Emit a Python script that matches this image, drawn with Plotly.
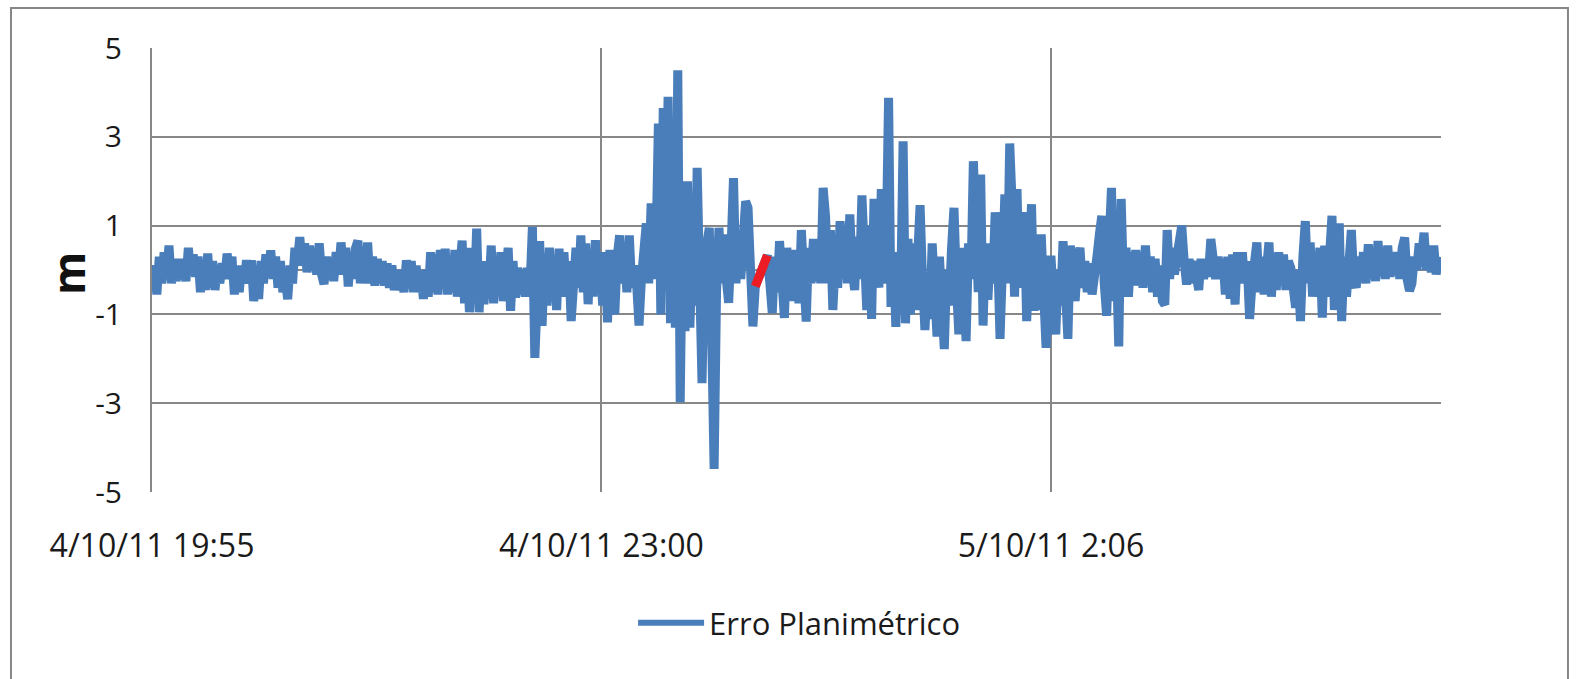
import pandas as pd
import plotly.graph_objects as go

# Série temporal do erro planimétrico (m), uma amostra por minuto a partir de 4/10/11 19:55
inicio = "2011-10-04 19:55:00"
erro_planimetrico = [
    -0.3, 0.1, -0.55, 0.3, -0.3, 0.4, -0.2, 0.55, -0.3, 0.2,
    -0.25, 0.25, -0.2, 0.2, -0.25, 0.5, -0.1, 0.35, -0.15, 0.3,
    -0.5, 0.1, -0.45, 0.37, -0.4, 0.2, -0.45, 0.1, -0.3, 0.15,
    -0.2, 0.37, -0.1, 0.3, -0.55, 0.0, -0.5, 0.1, -0.3, 0.22,
    -0.2, 0.22, -0.7, 0.0, -0.65, 0.2, -0.3, 0.35, -0.1, 0.44,
    -0.2, 0.3, -0.4, 0.2, -0.5, -0.2, -0.66, 0.1, -0.3, 0.5,
    0.2, 0.74, 0.1, 0.6, -0.05, 0.55, 0.0, 0.45, -0.1, 0.6,
    -0.1, -0.32, 0.3, -0.2, 0.25, -0.25, 0.4, -0.1, 0.62, 0.1,
    0.5, -0.37, 0.3, -0.2, 0.5, 0.66, -0.3, 0.4, -0.3, 0.62,
    -0.3, 0.3, -0.35, 0.25, -0.3, 0.2, -0.35, 0.15, -0.4, 0.1,
    -0.45, -0.15, -0.45, 0.0, -0.5, 0.22, -0.3, 0.2, -0.5, 0.1,
    -0.5, -0.05, -0.65, 0.0, -0.6, 0.4, -0.5, 0.35, -0.55, 0.45,
    -0.4, 0.48, -0.55, 0.3, -0.5, 0.45, -0.6, 0.1, 0.66, -0.75,
    0.5, -0.95, 0.3, -0.6, 0.93, -0.95, 0.2, -0.77, 0.0, -0.5,
    0.55, -0.75, 0.3, -0.5, 0.4, -0.7, 0.1, 0.5, -0.92, 0.2,
    -0.62, 0.05, -0.55, 0.0, -0.6, 0.05, -0.4, 0.97, -1.98, -0.5,
    0.65, -1.26, 0.3, -0.8, 0.5, -0.7, 0.2, -0.9, 0.48, -0.6,
    0.4, -0.5, 0.2, -1.15, -0.2, 0.5, -0.4, 0.78, -0.5, 0.6,
    -0.77, 0.45, -0.6, 0.67, -0.4, 0.3, -0.8, 0.4, -1.18, 0.45,
    -0.5, -1.0, 0.3, 0.78, -0.3, 0.5, -0.5, 0.78, -0.4, 0.1,
    -0.3, -1.25, -0.2, 0.3, 1.05, -0.3, 1.5, -0.2, 0.5, 3.3,
    -1.0, 3.65, 0.5, 3.9, -1.2, 2.8, -1.3, 4.5, -2.98, 1.2,
    -1.38, 2.0, -1.3, 0.5, -0.8, 2.3, -0.5, -2.55, 0.2, 0.8,
    0.95, -1.5, -4.48, -0.5, 0.95, -0.3, 0.8, -0.2, -0.74, 0.5,
    2.07, -0.3, 0.8, -0.2, 1.0, 1.55, 1.4, -0.3, -1.27, -0.37,
    -0.25, -0.1, 0.05, 0.2, 0.33, -0.3, -0.97, 0.3, -0.5, 0.65,
    -0.3, -1.08, 0.5, -0.4, 0.45, -0.7, 0.4, -0.75, 0.9, -0.3,
    -1.16, 0.5, -0.3, 0.7, -0.25, 0.6, -0.3, 1.85, 1.2, -0.3,
    0.9, -0.9, 0.2, -0.4, 1.1, -0.2, 0.8, -0.3, 1.25, 0.0,
    -0.45, 0.75, -0.2, 1.68, 0.3, -0.9, 1.0, -1.1, 1.6, 0.2,
    -0.4, 1.82, -0.3, 0.5, 3.88, -0.83, 0.4, -1.28, 0.3, -0.5,
    2.9, -1.2, 0.7, -1.0, 0.6, -0.9, 0.3, 1.46, -0.2, -1.35,
    -0.3, -1.1, 0.6, -0.5, -1.5, 0.3, -0.9, -1.78, 0.0, -0.8,
    0.5, 1.4, -0.3, -1.45, 0.5, -0.5, -1.6, 0.6, -0.2, 2.45,
    1.2, -0.5, 2.15, -1.25, 0.6, -0.67, 0.5, -0.3, 1.3, 0.4,
    -1.55, 0.5, 1.7, -0.3, 2.85, 1.5, -0.6, 1.82, -0.4, 0.8,
    1.3, -1.15, 0.4, 1.48, -0.92, 0.3, -0.9, 0.8, -0.5, -1.75,
    -0.5, 0.32, -0.6, -1.45, 0.0, -0.8, 0.65, -0.3, -1.55, 0.55,
    -0.2, -0.7, 0.2, 0.5, -0.4, 0.2, -0.5, 0.15, -0.55, 0.2,
    0.3, 0.8, 1.22, -0.3, -1.03, 0.6, 1.85, -0.7, 0.3, -1.72,
    1.6, -0.4, 0.5, -0.6, 0.4, -0.3, 0.45, -0.35, 0.35, -0.4,
    0.55, -0.3, 0.3, -0.5, 0.25, -0.6, 0.1, -0.7, -0.78, 0.9,
    -0.2, 0.5, -0.1, 0.3, 0.6, 1.0, 0.2, -0.33, 0.25, -0.3,
    0.2, -0.3, -0.45, 0.25, -0.2, 0.2, -0.15, 0.7, 0.1, -0.2,
    0.3, -0.2, 0.25, -0.55, 0.3, -0.65, 0.35, -0.78, 0.4, -0.3,
    0.4, -0.3, 0.2, -1.1, -0.3, 0.3, 0.62, -0.5, 0.3, -0.55,
    0.4, 0.62, -0.6, 0.3, -0.45, 0.4, -0.3, 0.35, -0.45, 0.2,
    0.05, -0.4, -0.85, 0.0, -1.15, 0.3, 1.1, -0.3, 0.62, -0.6,
    0.4, -0.5, 0.5, -1.07, 0.55, -0.6, 0.4, 1.22, -0.9, 0.9,
    1.05, -1.15, 0.3, -0.6, 0.5, 0.9, -0.2, -0.4, 0.3, -0.25,
    0.4, -0.3, 0.58, -0.2, 0.3, -0.25, 0.65, -0.1, 0.45, -0.2,
    0.55, -0.15, 0.3, -0.1, 0.4, -0.2, 0.5, 0.73, -0.2, -0.47,
    -0.3, 0.3, 0.0, 0.6, 0.3, 0.84, 0.0, 0.4, -0.05, 0.55,
    -0.1, 0.3,
]
# trecho destacado em vermelho (índices das amostras)
destaque_ini, destaque_fim = 249, 255

y_ticks = [-5, -3, -1, 1, 3, 5]
y_tick_text = ["-5", "-3", "-1", "1", "3", "5"]
x_tick_minutes = [0, 185.5, 371]
x_tick_text = ["4/10/11 19:55", "4/10/11 23:00", "5/10/11 2:06"]
janela_minutos = 532

t0 = pd.Timestamp(inicio)
tempos = pd.date_range(t0, periods=len(erro_planimetrico), freq="min")
x_ticks = [t0 + pd.Timedelta(minutes=m) for m in x_tick_minutes]
x_fim = t0 + pd.Timedelta(minutes=janela_minutos)

AZUL = "#4A7EBB"
VERMELHO = "#ED1C24"
GRADE = "#878787"
FONTE = "Open Sans"
ESPESSURA = 9

fig = go.Figure()
fig.add_trace(go.Scatter(
    x=tempos, y=erro_planimetrico, mode="lines", name="Erro Planimétrico",
    line=dict(color=AZUL, width=ESPESSURA), showlegend=False,
    legendgroup="erro",
))
fig.add_trace(go.Scatter(
    x=tempos[destaque_ini:destaque_fim],
    y=erro_planimetrico[destaque_ini:destaque_fim],
    mode="lines", showlegend=False,
    line=dict(color=VERMELHO, width=ESPESSURA),
))
# entrada da legenda com traço mais fino
fig.add_trace(go.Scatter(
    x=[None], y=[None], mode="lines", name="Erro Planimétrico",
    line=dict(color=AZUL, width=6), legendgroup="erro",
))

fig.update_layout(
    width=1579, height=679,
    margin=dict(l=152, r=138, t=48, b=187),
    paper_bgcolor="white", plot_bgcolor="white",
    font=dict(family=FONTE, size=30, color="#1a1a1a"),
    showlegend=True,
    legend=dict(orientation="h", x=0.502, xanchor="center", y=-0.295, yanchor="middle",
                font=dict(size=31), bgcolor="rgba(0,0,0,0)", itemwidth=66),
    xaxis=dict(
        type="date", range=[t0, x_fim],
        tickvals=x_ticks, ticktext=x_tick_text, tickfont=dict(size=32),
        showgrid=True, gridcolor=GRADE, gridwidth=2,
        ticks="outside", ticklen=26, tickcolor="rgba(0,0,0,0)",
        zeroline=False, showline=False,
    ),
    yaxis=dict(
        range=[-5, 5], tickvals=y_ticks, ticktext=y_tick_text,
        showgrid=True, gridcolor=GRADE, gridwidth=2,
        zeroline=True, zerolinecolor=GRADE, zerolinewidth=2,
        showline=True, linecolor=GRADE, linewidth=2,
        ticks="outside", ticklen=22, tickcolor="rgba(0,0,0,0)",
    ),
    annotations=[dict(
        text="<b>m</b>", textangle=-90, xref="paper", yref="paper",
        x=-0.0652, y=0.493, xanchor="center", yanchor="middle",
        showarrow=False, font=dict(family=FONTE, size=44, color="#111111"),
    )],
    shapes=[dict(
        type="rect", xref="paper", yref="paper",
        x0=-0.1094, x1=1.0985, y0=-0.47, y1=1.0901,
        line=dict(color=GRADE, width=2), layer="below",
    )],
)

fig.write_html("out.html")
